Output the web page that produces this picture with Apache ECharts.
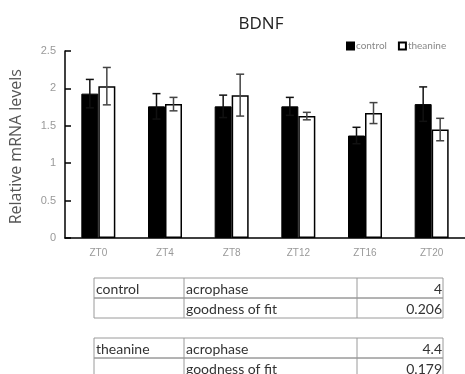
<!DOCTYPE html>
<html><head><meta charset="utf-8">
<script src="https://cdn.jsdelivr.net/npm/echarts@6/dist/echarts.min.js"></script>
<style>html,body{margin:0;padding:0;background:#fff}#c{width:465px;height:374px}</style>
</head><body><div id="c"></div>
<script>
var categories = ['ZT0','ZT4','ZT8','ZT12','ZT16','ZT20'];
var controlValues = [1.93, 1.76, 1.76, 1.76, 1.37, 1.79];
var controlErrors = [0.19, 0.17, 0.15, 0.12, 0.11, 0.23];
var theanineValues = [2.03, 1.79, 1.91, 1.63, 1.67, 1.45];
var theanineErrors = [0.25, 0.09, 0.28, 0.05, 0.14, 0.15];
var yTicks = [0, 0.5, 1, 1.5, 2, 2.5];
var seriesNames = ['control', 'theanine'];
var tableControl = [['control','acrophase','4'],['','goodness of fit','0.206']];
var tableTheanine = [['theanine','acrophase','4.4'],['','goodness of fit','0.179']];

var BW = 17;
function errSeries(vals, errs, offset, color) {
  return {
    type: 'custom', z: 10, silent: true,
    data: vals.map(function (v, i) { return [i, v, errs[i]]; }),
    renderItem: function (params, api) {
      var i = api.value(0), v = api.value(1), e = api.value(2);
      var c = api.coord([i, v]);
      var x = c[0] + offset;
      var yt = api.coord([i, v + e])[1];
      var yb = api.coord([i, v - e])[1];
      var cap = 4;
      var st = { stroke: color, lineWidth: 1.5 };
      return { type: 'group', children: [
        { type: 'line', shape: { x1: x, y1: yt, x2: x, y2: yb }, style: st },
        { type: 'line', shape: { x1: x - cap, y1: yt, x2: x + cap, y2: yt }, style: st },
        { type: 'line', shape: { x1: x - cap, y1: yb, x2: x + cap, y2: yb }, style: st }
      ]};
    }
  };
}

function tableGraphics(rows, top) {
  var g = [];
  var cols = [94, 184, 357, 443];
  var rh = 20;
  var font = '14px Lato, "Open Sans", sans-serif';
  rows.forEach(function (r, ri) {
    var y = top + ri * rh;
    g.push({ type: 'rect', shape: { x: cols[0], y: y, width: cols[3] - cols[0], height: rh },
      style: { fill: 'none', stroke: '#9a9a9a', lineWidth: 1 } });
    g.push({ type: 'line', shape: { x1: cols[1], y1: y, x2: cols[1], y2: y + rh }, style: { stroke: '#9a9a9a', lineWidth: 1 } });
    g.push({ type: 'line', shape: { x1: cols[2], y1: y, x2: cols[2], y2: y + rh }, style: { stroke: '#9a9a9a', lineWidth: 1 } });
    g.push({ type: 'text', style: { x: cols[0] + 2, y: y + rh / 2 + 1, text: r[0], font: font, fill: '#333', textVerticalAlign: 'middle', verticalAlign: 'middle' } });
    g.push({ type: 'text', style: { x: cols[1] + 2, y: y + rh / 2 + 1, text: r[1], font: font, fill: '#333', textVerticalAlign: 'middle', verticalAlign: 'middle' } });
    g.push({ type: 'text', style: { x: cols[3] - 1, y: y + rh / 2 + 1, text: r[2], font: font, fill: '#333', align: 'right', textAlign: 'right', textVerticalAlign: 'middle', verticalAlign: 'middle' } });
  });
  return g;
}

var chart = echarts.init(document.getElementById('c'));
chart.setOption({
  animation: false,
  title: { text: 'BDNF', left: 256, top: 11, textAlign: 'center',
    textStyle: { fontSize: 17, fontWeight: 'normal', color: '#222', fontFamily: '"Open Sans", sans-serif' } },
  legend: { data: seriesNames, left: 341, top: 36, itemWidth: 7, itemHeight: 7, itemGap: 11,
    icon: 'rect', textStyle: { fontSize: 10, color: '#888', padding: [0, 0, 0, -3], fontFamily: 'Lato, sans-serif' } },
  grid: { left: 65, right: -11, top: 51, bottom: 136, containLabel: false },
  xAxis: { type: 'category', data: categories,
    axisLine: { lineStyle: { color: '#000', width: 1.5 } }, axisTick: { show: false },
    axisLabel: { color: '#999', fontSize: 10, margin: 10 } },
  yAxis: { type: 'value', min: yTicks[0], max: yTicks[yTicks.length - 1], interval: 0.5,
    splitLine: { show: false },
    axisLine: { show: true, lineStyle: { color: '#000', width: 1.5 } },
    axisTick: { show: true, inside: true, length: 6, lineStyle: { color: '#000', width: 1.5 } },
    axisLabel: { color: '#999', fontSize: 11, margin: 9 } },
  graphic: [
    { type: 'text', left: 8, top: 69, rotation: Math.PI / 2,
      style: { text: 'Relative mRNA levels', font: '16px "Open Sans", sans-serif', fill: '#555' } }
  ].concat(tableGraphics(tableControl, 278)).concat(tableGraphics(tableTheanine, 338)),
  series: [
    { name: seriesNames[0], type: 'bar', data: controlValues, barWidth: BW, barGap: '0%',
      itemStyle: { color: '#000', borderColor: '#000', borderWidth: 1 } },
    { name: seriesNames[1], type: 'bar', data: theanineValues, barWidth: BW, barGap: '0%',
      itemStyle: { color: '#fff', borderColor: '#000', borderWidth: 1.5 } },
    errSeries(controlValues, controlErrors, -BW / 2, '#111'),
    errSeries(theanineValues, theanineErrors, BW / 2, '#444')
  ]
});
</script></body></html>
